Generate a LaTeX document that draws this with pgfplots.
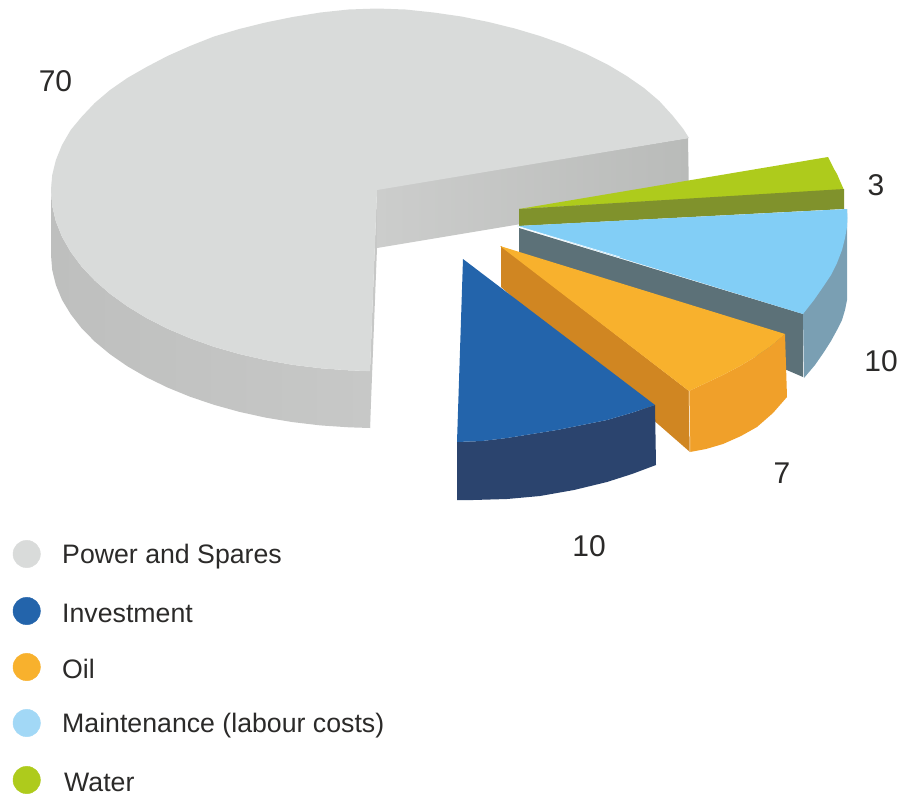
\documentclass[border=0pt]{standalone}
\usepackage{pgfplots}
\usepackage{fontspec}
\setmainfont{Liberation Sans}
\pgfplotsset{compat=1.18}
\definecolor{greyTop}{HTML}{D9DBDA}
\definecolor{greyWallL}{HTML}{CCCDCC}
\definecolor{greyWallR}{HTML}{B9BBB9}
\definecolor{greySideL}{HTML}{BEBFBE}
\definecolor{greySideR}{HTML}{C7C8C7}
\definecolor{invTop}{HTML}{2364AB}
\definecolor{invSide}{HTML}{2B446E}
\definecolor{oilTop}{HTML}{F8B12D}
\definecolor{oilCut}{HTML}{D08622}
\definecolor{oilSide}{HTML}{F0A02A}
\definecolor{mntTop}{HTML}{82CEF6}
\definecolor{mntCut}{HTML}{5C7178}
\definecolor{mntSide}{HTML}{7A9FB3}
\definecolor{watTop}{HTML}{AECB1C}
\definecolor{watCut}{HTML}{80922C}
\definecolor{keyMnt}{HTML}{A2D8F6}
\definecolor{ink}{HTML}{2B2A29}
\newcommand{\valfont}{\fontsize{30}{34}\selectfont}
\newcommand{\keyfont}{\fontsize{26.7}{30}\selectfont}
\begin{document}
\begin{tikzpicture}
\begin{axis}[
  width=914pt, height=796pt, scale only axis,
  xmin=0, xmax=914, ymin=0, ymax=796, y dir=reverse,
  hide axis, clip=false,
  every axis plot/.append style={no markers}]

% page extent of the drawing
\path (axis cs:0,0) rectangle (axis cs:914,796);

% Power and Spares: rim, inner wall, top face
\addplot[draw=none, left color=greySideL, right color=greySideR] coordinates {
 (51,182)(51,255)(52.2,270)(55.9,285)(62,299.8)(70.7,314.2)(81.5,328.1)(94.7,341.5)(110,354.2)(127.3,366.2)
 (146.5,377.3)(167.5,387.5)(190,396.7)(214,404.8)(239.2,411.8)(265.5,417.6)(292.6,422.1)(320.4,425.4)(348.6,427.3)(370,428)
 (370,371)(348.6,370.3)(320.4,368.2)(292.6,364.8)(265.5,360)(239.2,354)(214,346.8)(190,338.2)(167.5,328.7)(146.5,318)
 (127.3,306.3)(110,293.8)(94.7,280.5)(81.5,266.5)(70.7,251.9)(62,236.8)(55.9,221.4)(52.2,205.8)(51,190)} --cycle;
\addplot[draw=none, fill=greySideR] coordinates {(377,190)(377,248)(370,428)(370,371)} --cycle;
\addplot[draw=none, left color=greyWallL, right color=greyWallR] coordinates {
 (377,189)(688,138)(689,196)(377,248)} --cycle;
\addplot[draw=none, fill=greyTop] coordinates {
 (377,190)(689,138)(683.3,129)(672.5,115.5)(659.3,101)(644,88)(626.7,76)(607.5,64.5)(586.5,54)(564,44.5)(540,36)
 (514.8,28.5)(488.5,22)(461.4,16.5)(433.6,12.5)(405.4,9.5)(377,8.5)(348.6,9.5)(320.4,12.5)(292.6,17)(265.5,22.5)
 (239.2,29)(214,36.5)(190,46)(167.5,56)(146.5,67)(127.3,78)(110,90)(94.7,103)(81.5,117)(70.7,130)
 (62,145)(55.9,160)(52.2,175)(51,190)(52.2,205.8)(55.9,221.4)(62,236.8)(70.7,251.9)(81.5,266.5)(94.7,280.5)
 (110,293.8)(127.3,306.3)(146.5,318)(167.5,328.7)(190,338.2)(214,346.8)(239.2,354)(265.5,360)(292.6,364.8)(320.4,368.2)
 (348.6,370.3)(366,371)(370,371)} --cycle;

% Water
\addplot[draw=none, fill=watTop] coordinates {(519,209)(828,157)(831,163)(834,169)(837,174)(840,181)(844,190)} --cycle;
\addplot[draw=none, fill=watCut] coordinates {(519,209)(844,189)(844,209)(519,226)} --cycle;

% Maintenance
\addplot[draw=none, fill=mntCut] coordinates {(519,228)(803,314)(803,377)(519,255)} --cycle;
\addplot[draw=none, fill=mntSide] coordinates {
 (847,209)(847,300)(845,310)(842,320)(837,330)(831,341)(824,352)(815,365)(804,378)(803,314)} --cycle;
\addplot[draw=none, fill=mntTop] coordinates {
 (517,226)(847,209)(847.5,218)(847,227)(845,238)(842,250)(837,263)(831,275)(823,287)(814,300)(803,314)} --cycle;
\addplot[color=white, line width=0.5pt] coordinates {(517,226)(620,257)};

% Oil
\addplot[draw=none, fill=oilCut] coordinates {(501,246)(689,391)(690,452)(501,287)} --cycle;
\addplot[draw=none, fill=oilSide] coordinates {
 (689,391)(706,383)(723,375)(740,366)(755,357)(771,346)(785,334)(787,397)(773,413)(757,427)(741,436)(723,444)(706,449)(690,452)} --cycle;
\addplot[draw=none, fill=oilTop] coordinates {
 (500,246)(785,334)(771,346)(755,357)(740,366)(723,375)(706,383)(689,391)} --cycle;
\addplot[color=white, line width=0.5pt] coordinates {(689,391)(690,452)};

% Investment
\addplot[draw=none, fill=invSide] coordinates {
 (457,442)(482,441)(507,438)(532,434)(557,430)(582,425)(607,420)(631,413)(655,405)
 (656,465)(632,474)(607,482)(574,490)(540,496)(507,499)(473,500)(457,500)} --cycle;
\addplot[draw=none, fill=invTop] coordinates {
 (463,259)(655,405)(631,413)(607,420)(582,425)(557,430)(532,434)(507,438)(482,441)(457,442)} --cycle;

% Key dots
\addplot[only marks, mark=*, mark size=13.7pt, color=greyTop] coordinates {(26.7,554)};
\addplot[only marks, mark=*, mark size=13.7pt, color=invTop] coordinates {(26.7,611)};
\addplot[only marks, mark=*, mark size=13.7pt, color=oilTop] coordinates {(26.7,667)};
\addplot[only marks, mark=*, mark size=13.7pt, color=keyMnt] coordinates {(26.7,723)};
\addplot[only marks, mark=*, mark size=13.7pt, color=watTop] coordinates {(26.7,780)};

% Key text
\node[anchor=base west, inner sep=0pt, text=ink, font=\keyfont] at (axis cs:62,563) {Power and Spares};
\node[anchor=base west, inner sep=0pt, text=ink, font=\keyfont] at (axis cs:62,622) {Investment};
\node[anchor=base west, inner sep=0pt, text=ink, font=\keyfont] at (axis cs:62,678) {Oil};
\node[anchor=base west, inner sep=0pt, text=ink, font=\keyfont] at (axis cs:62,732) {Maintenance (labour costs)};
\node[anchor=base west, inner sep=0pt, text=ink, font=\keyfont] at (axis cs:64,791) {Water};

% Values
\node[inner sep=0pt, text=ink, font=\valfont] at (axis cs:55.5,81) {70};
\node[inner sep=0pt, text=ink, font=\valfont] at (axis cs:876,185) {3};
\node[inner sep=0pt, text=ink, font=\valfont] at (axis cs:881,361) {10};
\node[inner sep=0pt, text=ink, font=\valfont] at (axis cs:782,473) {7};
\node[inner sep=0pt, text=ink, font=\valfont] at (axis cs:589,546) {10};
\end{axis}
\end{tikzpicture}
\end{document}
